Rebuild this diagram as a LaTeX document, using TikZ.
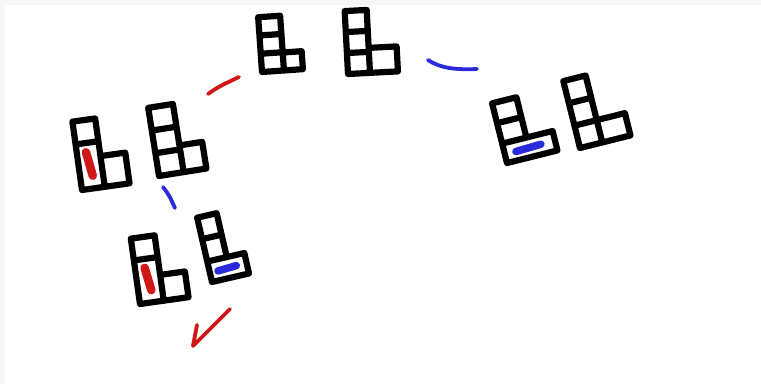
\documentclass[tikz,border=0pt]{standalone}
\definecolor{inkred}{HTML}{D01818}
\definecolor{inkblue}{HTML}{2A2ADA}
\definecolor{edgegray}{HTML}{F6F6F6}
\tikzset{
  ink/.style={line width=6.2pt, line join=round, line cap=round, black},
  penstroke/.style={line width=3.8pt, line cap=round, line join=round},
  domark/.style={line width=8.5pt, line cap=round},
}
% #1 x, #2 y (bottom-left, pixels), #3 angle, #4 column width, #5 cell height, #6 foot width, #7 foot height
\newcommand\LPlain[7]{%
  \begin{scope}[shift={(#1,#2)},rotate=#3]
    \draw[ink] (0,0) rectangle (#4,-3*#5)
      (0,-#5) -- (#4,-#5) (0,-2*#5) -- (#4,-2*#5)
      (#4,0) rectangle (#4+#6,-#7);
  \end{scope}}
\newcommand\LRed[7]{%
  \begin{scope}[shift={(#1,#2)},rotate=#3]
    \draw[ink] (0,0) rectangle (#4,-3*#5)
      (0,-2*#5) -- (#4,-2*#5)
      (#4,0) rectangle (#4+#6,-#7);
    \draw[domark,inkred] (0.55*#4,-0.55*#5) -- (0.4*#4,-1.6*#5);
  \end{scope}}
\newcommand\LBlue[7]{%
  \begin{scope}[shift={(#1,#2)},rotate=#3]
    \draw[ink] (0,-#7) rectangle (#4,-3*#5)
      (0,-2*#5) -- (#4,-2*#5)
      (0,0) rectangle (#4+#6,-#7);
    \draw[domark,inkblue,line width=7.5pt] (0.22*#4+0.22*#6,-0.45*#7) -- (0.72*#4+0.72*#6,-0.5*#7);
  \end{scope}}
\begin{document}
\begin{tikzpicture}[x=1pt,y=-1pt]
\useasboundingbox (0,0) rectangle (761,384);
\fill[edgegray] (0,0) rectangle (761,384);
\fill[white] (5,5) rectangle (761,384);

% L shapes
\LRed{82}{190}{8}{23}{23}{25}{31}      % A
\LPlain{159}{176}{9}{25}{23}{23}{27}   % B
\LPlain{262}{72}{4}{22}{18.3}{19}{18}  % C
\LPlain{348}{74}{3}{22}{21}{28}{25}    % D
\LBlue{507}{163}{14}{25}{20.5}{27}{20} % E
\LPlain{580}{148}{14}{23}{23}{29}{23}  % H
\LRed{140}{304}{8}{24}{22}{25}{26}     % F
\LBlue{212}{282}{13}{20}{22}{18}{21}   % G

% pen strokes
\coordinate (ra) at (208,94);
\coordinate (rb) at (239,77);
\draw[penstroke,inkred] (ra) .. controls (218,87) .. (rb);

\coordinate (ba) at (428,60);
\coordinate (bb) at (477,69);
\draw[penstroke,inkblue] (ba) .. controls (440,68) and (455,70) .. (bb);

\coordinate (bc) at (163,187);
\coordinate (bd) at (175,208);
\draw[penstroke,inkblue] (bc) .. controls (169,195) .. (bd);

\coordinate (ca) at (197,325);
\coordinate (cb) at (193,346);
\coordinate (cc) at (230,309);
\draw[penstroke,inkred] (ca) -- (cb) -- (cc);
\end{tikzpicture}
\end{document}
